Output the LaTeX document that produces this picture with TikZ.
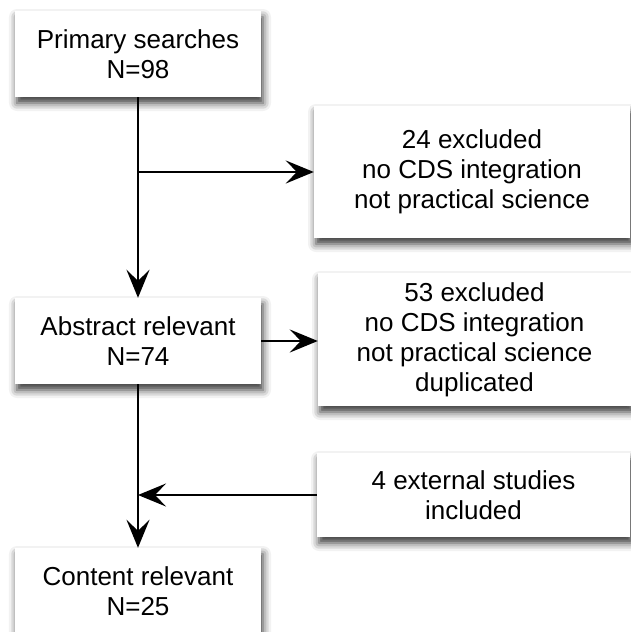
\documentclass[tikz,border=0pt]{standalone}
\usepackage{fontspec}
\setmainfont{Liberation Sans}
\usetikzlibrary{arrows.meta,shadows.blur,calc}
\begin{document}
\begin{tikzpicture}[x=1pt,y=-1pt,
  box/.style={fill=white, draw=none, align=center, inner sep=0pt,
    font=\fontsize{26}{30}\selectfont,
    blur shadow={shadow xshift=2pt, shadow yshift=-6pt, shadow blur radius=8pt, shadow opacity=80}},
  arr/.style={line width=2.4pt, -{Stealth[length=28pt,width=23pt,inset=11pt]}},
  ln/.style={line width=2.4pt}]
\useasboundingbox (0,0) rectangle (631,632);
\clip (0,0) rectangle (631,632);
\node[box, minimum width=246pt, minimum height=86pt] (b1) at (138,54) {Primary searches\\N=98};
\node[box, minimum width=316pt, minimum height=132pt] (b2) at (472,172) {24 excluded\\no CDS integration\\not practical science};
\node[box, minimum width=246pt, minimum height=86pt] (b3) at (138,341) {Abstract relevant\\N=74};
\node[box, minimum width=313pt, minimum height=133pt] (b4) at (474.5,339.5) {53 excluded\\no CDS integration\\not practical science\\duplicated};
\node[box, minimum width=313pt, minimum height=84pt] (b5) at (473.5,495) {4 external studies\\included};
\node[box, minimum width=246pt, minimum height=87pt] (b6) at (138,591.5) {Content relevant\\N=25};
\coordinate (j1) at (b1.south |- b2.west);
\coordinate (j2) at (b3.south |- b5.west);
\draw[arr] (b1.south) -- (b3.north);
\draw[arr] (j1) -- (b2.west);
\draw[arr] (b3.east) -- (b4.west |- b3.east);
\draw[arr] (b3.south) -- (b6.north);
\draw[arr] (b5.west) -- (j2);
\end{tikzpicture}
\end{document}
